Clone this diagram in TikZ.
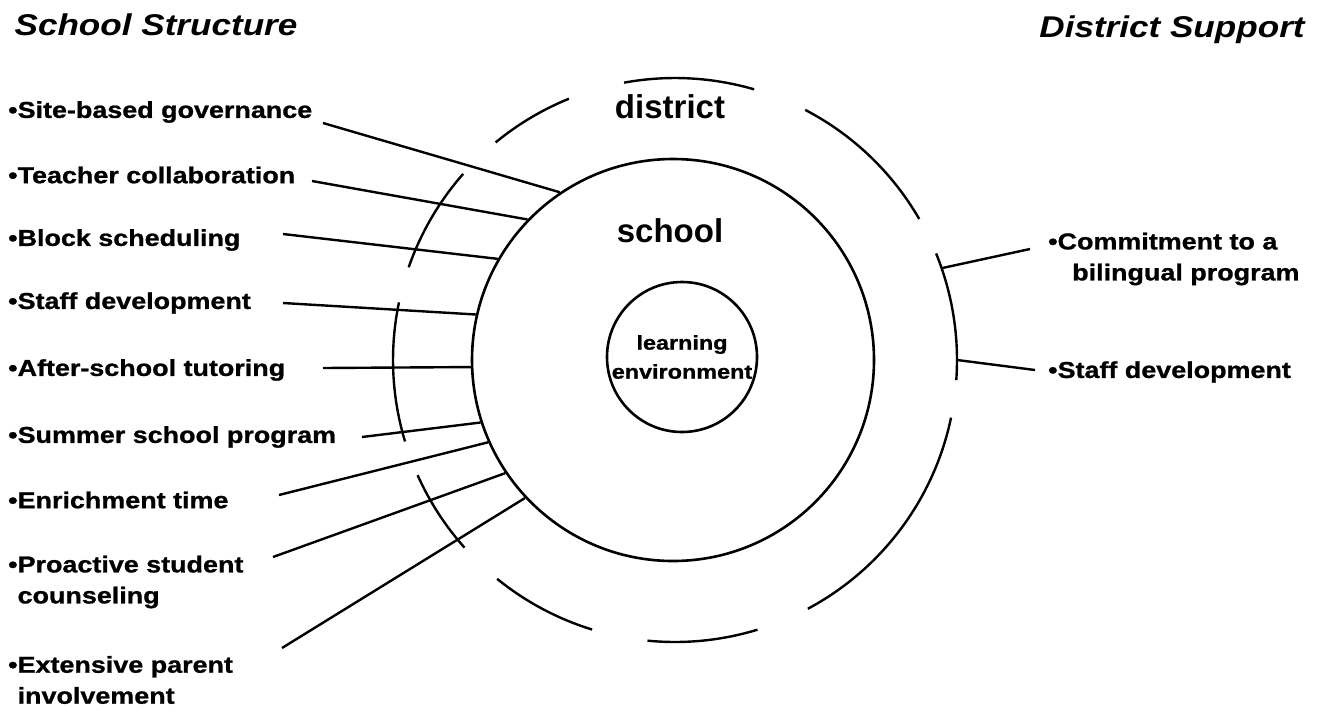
\documentclass[tikz,border=0pt]{standalone}
\usepackage{fontspec}
\setmainfont{Liberation Sans}
\newfontfamily\widefont{Liberation Sans}[FakeStretch=1.17,FakeBold=1]
\newfontfamily\titlefont{Liberation Sans}[FakeStretch=1.17]

\begin{document}
\begin{tikzpicture}[x=1pt,y=1pt,
  item/.style={anchor=west,align=left,inner sep=0pt,font=\widefont\fontsize{23}{31}\selectfont\bfseries},
  title/.style={inner sep=0pt,font=\titlefont\fontsize{30}{33}\selectfont\bfseries\itshape},
  tag/.style={inner sep=0pt,font=\fontsize{33}{36}\selectfont\bfseries},
  ring/.style={circle,draw,line width=2.6pt,inner sep=0pt},
  wire/.style={line width=2.4pt}]
\useasboundingbox (0,0) rectangle (1322,-710);

\node[title] (sstruct) at (156,-25) {School Structure};
\node[title] (dsupport) at (1172,-30) {District Support};

\node[ring,minimum size=402pt] (school) at (673,-360) {};
\node[ring,minimum size=150pt,align=center,
  font=\widefont\fontsize{20}{29}\selectfont\bfseries] (learn) at (682,-357) {learning\\environment};
\node[circle,inner sep=0pt,minimum size=564pt] (district) at (675,-360) {};
\node[tag] (dtag) at (670,-107) {district};
\node[tag] (stag) at (670,-231) {school};

\foreach \a/\b in {112.1/129.5,73.7/100.4,30/62.5,-4.1/22.2,-61.9/-11.8,
  -95.6/-73,230.9/252.9,138.7/160.8,168.2/196.8,204.1/221.7}
  \draw[wire] (district.center) ++(\a:282) arc[start angle=\a,end angle=\b,radius=282];

\node[item] (site) at (8,-112) {\textbullet Site-based governance};
\node[item] (teach) at (8,-175) {\textbullet Teacher collaboration};
\node[item] (block) at (8,-240) {\textbullet Block scheduling};
\node[item] (staffl) at (8,-303) {\textbullet Staff development};
\node[item] (after) at (8,-370) {\textbullet After-school tutoring};
\node[item] (summer) at (8,-437) {\textbullet Summer school program};
\node[item] (enrich) at (8,-500) {\textbullet Enrichment time};
\node[item] (proact) at (8,-582) {\textbullet Proactive student\\\phantom{\textbullet}counseling};
\node[item] (parent) at (8,-680) {\textbullet Extensive parent\\\phantom{\textbullet}involvement};
\node[item] (commit) at (1048,-259) {\textbullet Commitment to a\\\hspace{24pt}bilingual program};
\node[item] (staffr) at (1048,-372) {\textbullet Staff development};

\foreach \n/\x/\y/\a in {site/323/123/124.1,teach/312/181/136.6,block/283/234/150.4,
  staffl/283/303/167.6,after/323/368/182.3,summer/362/437/198.6,enrich/279/495/204.4,
  proact/273/557/214.6,parent/282/648/223.4}
{
  \coordinate (\n-end) at (\x,-\y);
  \draw[wire] (\n-end) -- (school.\a);
}
\foreach \n/\x/\y/\a in {commit/1030/249/19.5,staffr/1035/370/0.4}
{
  \coordinate (\n-end) at (\x,-\y);
  \draw[wire] (\n-end) -- (district.\a);
}
\end{tikzpicture}
\end{document}
